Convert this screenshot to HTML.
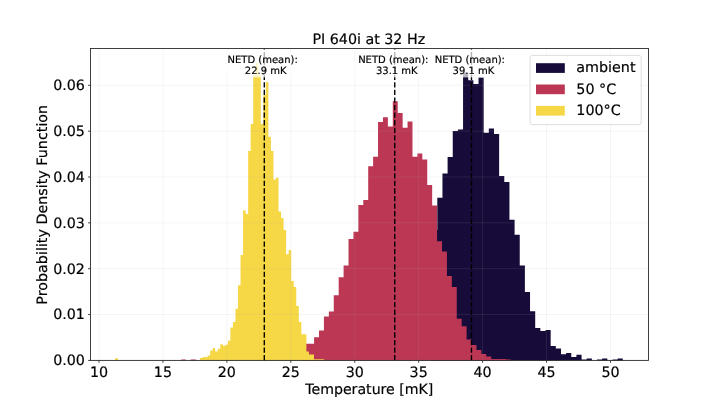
<!DOCTYPE html>
<html lang="en"><head><meta charset="utf-8"><title>PI 640i at 32 Hz</title>
<style>html,body{margin:0;padding:0;background:#fff;overflow:hidden}svg{display:block}text{font-family:"DejaVu Sans","Liberation Sans",sans-serif;fill:#000;stroke:#000;stroke-width:0.18px;text-rendering:geometricPrecision}</style></head><body>
<svg width="720" height="405" viewBox="0 0 720 405">
<rect width="720" height="405" fill="#fff"/>
<path d="M432.14 360.40 L432.14 230.00 L437.29 230.00 L437.29 197.80 L442.45 197.80 L442.45 173.50 L447.60 173.50 L447.60 157.00 L452.75 157.00 L452.75 131.00 L457.91 131.00 L457.91 129.40 L463.06 129.40 L463.06 72.40 L468.21 72.40 L468.21 80.20 L473.37 80.20 L473.37 84.10 L478.52 84.10 L478.52 77.40 L483.67 77.40 L483.67 132.70 L488.82 132.70 L488.82 128.50 L493.98 128.50 L493.98 134.10 L499.13 134.10 L499.13 176.00 L504.28 176.00 L504.28 181.90 L509.44 181.90 L509.44 219.70 L514.59 219.70 L514.59 234.80 L519.74 234.80 L519.74 265.50 L524.89 265.50 L524.89 291.90 L530.05 291.90 L530.05 311.20 L535.20 311.20 L535.20 328.00 L540.35 328.00 L540.35 331.10 L545.51 331.10 L545.51 330.10 L550.66 330.10 L550.66 346.10 L555.81 346.10 L555.81 348.50 L560.97 348.50 L560.97 354.20 L566.12 354.20 L566.12 353.00 L571.27 353.00 L571.27 357.00 L576.42 357.00 L576.42 354.70 L581.58 354.70 L581.58 359.60 L586.73 359.60 L586.73 358.60 L591.88 358.60 L591.88 360.40Z M597.04 360.40 L597.04 359.60 L602.19 359.60 L602.19 358.60 L607.34 358.60 L607.34 360.40Z M612.50 360.40 L612.50 359.60 L617.65 359.60 L617.65 358.60 L622.80 358.60 L622.80 360.40Z" fill="#160b39"/>
<path d="M181.30 360.40 L181.30 359.60 L185.80 359.60 L185.80 360.40Z M190.80 360.40 L190.80 359.60 L195.80 359.60 L195.80 360.40Z M304.24 360.40 L304.24 343.80 L309.16 343.80 L309.16 343.80 L314.08 343.80 L314.08 337.20 L319.00 337.20 L319.00 330.60 L323.92 330.60 L323.92 316.60 L328.84 316.60 L328.84 311.60 L333.76 311.60 L333.76 295.30 L338.68 295.30 L338.68 277.20 L343.60 277.20 L343.60 265.40 L348.52 265.40 L348.52 239.00 L353.44 239.00 L353.44 231.80 L358.36 231.80 L358.36 205.00 L363.28 205.00 L363.28 200.00 L368.20 200.00 L368.20 166.30 L373.12 166.30 L373.12 156.70 L378.04 156.70 L378.04 122.10 L382.96 122.10 L382.96 117.30 L387.88 117.30 L387.88 126.50 L392.80 126.50 L392.80 101.30 L397.72 101.30 L397.72 113.10 L402.64 113.10 L402.64 127.70 L407.56 127.70 L407.56 121.50 L412.48 121.50 L412.48 156.70 L417.40 156.70 L417.40 153.40 L422.32 153.40 L422.32 159.60 L427.24 159.60 L427.24 184.90 L432.16 184.90 L432.16 205.40 L437.08 205.40 L437.08 241.20 L442.00 241.20 L442.00 251.60 L446.92 251.60 L446.92 275.90 L451.84 275.90 L451.84 287.00 L456.76 287.00 L456.76 318.70 L461.68 318.70 L461.68 326.30 L466.60 326.30 L466.60 339.50 L471.52 339.50 L471.52 345.00 L476.44 345.00 L476.44 350.00 L481.36 350.00 L481.36 354.00 L486.28 354.00 L486.28 356.40 L491.20 356.40 L491.20 358.90 L496.12 358.90 L496.12 358.90 L501.04 358.90 L501.04 358.90 L505.96 358.90 L505.96 359.50 L510.88 359.50 L510.88 360.40Z" fill="#bc3754"/>
<path d="M115.10 360.40 L115.10 358.20 L117.90 358.20 L117.90 360.40Z M200.01 360.40 L200.01 358.00 L202.54 358.00 L202.54 357.00 L205.07 357.00 L205.07 357.00 L207.61 357.00 L207.61 355.40 L210.14 355.40 L210.14 350.40 L212.67 350.40 L212.67 348.10 L215.20 348.10 L215.20 351.40 L217.74 351.40 L217.74 348.80 L220.27 348.80 L220.27 344.30 L222.80 344.30 L222.80 345.80 L225.34 345.80 L225.34 344.80 L227.87 344.80 L227.87 340.70 L230.40 340.70 L230.40 327.60 L232.94 327.60 L232.94 322.00 L235.47 322.00 L235.47 308.80 L238.00 308.80 L238.00 285.20 L240.53 285.20 L240.53 255.00 L243.07 255.00 L243.07 210.50 L245.60 210.50 L245.60 213.90 L248.13 213.90 L248.13 151.00 L250.67 151.00 L250.67 124.00 L253.20 124.00 L253.20 75.00 L255.73 75.00 L255.73 63.00 L258.27 63.00 L258.27 75.00 L260.80 75.00 L260.80 124.00 L263.33 124.00 L263.33 95.00 L265.87 95.00 L265.87 82.00 L268.40 82.00 L268.40 136.70 L270.93 136.70 L270.93 151.00 L273.46 151.00 L273.46 179.50 L276.00 179.50 L276.00 177.80 L278.53 177.80 L278.53 211.40 L281.06 211.40 L281.06 218.00 L283.60 218.00 L283.60 229.90 L286.13 229.90 L286.13 254.20 L288.66 254.20 L288.66 250.00 L291.19 250.00 L291.19 281.00 L293.73 281.00 L293.73 287.00 L296.26 287.00 L296.26 306.00 L298.79 306.00 L298.79 322.00 L301.33 322.00 L301.33 334.20 L303.86 334.20 L303.86 334.20 L306.39 334.20 L306.39 351.40 L308.93 351.40 L308.93 354.40 L311.46 354.40 L311.46 354.40 L313.99 354.40 L313.99 359.30 L316.52 359.30 L316.52 359.30 L319.06 359.30 L319.06 359.30 L321.59 359.30 L321.59 359.30 L324.12 359.30 L324.12 360.40Z" fill="#f6d746"/>
<path d="M99.00 48.50 V360.40 M162.94 48.50 V360.40 M226.88 48.50 V360.40 M290.81 48.50 V360.40 M354.75 48.50 V360.40 M418.69 48.50 V360.40 M482.62 48.50 V360.40 M546.56 48.50 V360.40 M610.50 48.50 V360.40 M90.50 360.40 H648.45 M90.50 314.55 H648.45 M90.50 268.70 H648.45 M90.50 222.85 H648.45 M90.50 177.00 H648.45 M90.50 131.15 H648.45 M90.50 85.30 H648.45" stroke="#b0b0b0" stroke-opacity="0.22" stroke-width="0.6" fill="none"/>
<line x1="264.31" x2="264.31" y1="360.40" y2="48.50" stroke="#000" stroke-width="1.4" stroke-dasharray="5.3 2.28"/>
<line x1="394.74" x2="394.74" y1="360.40" y2="48.50" stroke="#000" stroke-width="1.4" stroke-dasharray="5.3 2.28"/>
<line x1="471.47" x2="471.47" y1="360.40" y2="48.50" stroke="#000" stroke-width="1.4" stroke-dasharray="5.3 2.28"/>
<rect x="224.7" y="51" width="76" height="26.4" fill="#fff" fill-opacity="0.7"/>
<text font-size="10.0" text-anchor="middle"><tspan x="262.70" y="63.1">NETD (mean):</tspan><tspan x="265.70" y="74.0">22.9 mK</tspan></text>
<rect x="355.3" y="51" width="76" height="26.4" fill="#fff" fill-opacity="0.7"/>
<text font-size="10.0" text-anchor="middle"><tspan x="393.30" y="63.1">NETD (mean):</tspan><tspan x="396.80" y="74.0">33.1 mK</tspan></text>
<rect x="431.9" y="51" width="76" height="26.4" fill="#fff" fill-opacity="0.7"/>
<text font-size="10.0" text-anchor="middle"><tspan x="469.85" y="63.1">NETD (mean):</tspan><tspan x="473.40" y="74.0">39.1 mK</tspan></text>
<rect x="90.50" y="48.50" width="557.95" height="311.90" fill="none" stroke="#2a2a2a" stroke-width="0.9"/>
<path d="M99.00 360.40 v2.4 M162.94 360.40 v2.4 M226.88 360.40 v2.4 M290.81 360.40 v2.4 M354.75 360.40 v2.4 M418.69 360.40 v2.4 M482.62 360.40 v2.4 M546.56 360.40 v2.4 M610.50 360.40 v2.4 M90.50 360.40 h-2.4 M90.50 314.55 h-2.4 M90.50 268.70 h-2.4 M90.50 222.85 h-2.4 M90.50 177.00 h-2.4 M90.50 131.15 h-2.4 M90.50 85.30 h-2.4" stroke="#2a2a2a" stroke-width="0.9" fill="none"/>
<g font-size="14.25" text-anchor="middle">
<text x="99.00" y="376.5">10</text>
<text x="162.94" y="376.5">15</text>
<text x="226.88" y="376.5">20</text>
<text x="290.81" y="376.5">25</text>
<text x="354.75" y="376.5">30</text>
<text x="418.69" y="376.5">35</text>
<text x="482.62" y="376.5">40</text>
<text x="546.56" y="376.5">45</text>
<text x="610.50" y="376.5">50</text>
</g>
<g font-size="14.25" text-anchor="end">
<text x="84.9" y="365.30">0.00</text>
<text x="84.9" y="319.45">0.01</text>
<text x="84.9" y="273.60">0.02</text>
<text x="84.9" y="227.75">0.03</text>
<text x="84.9" y="181.90">0.04</text>
<text x="84.9" y="136.05">0.05</text>
<text x="84.9" y="90.20">0.06</text>
</g>
<text font-size="14.25" text-anchor="middle" x="368.8" y="44.15">PI 640i at 32 Hz</text>
<text font-size="14.15" text-anchor="middle" x="369.3" y="394">Temperature [mK]</text>
<text font-size="14.3" text-anchor="middle" transform="translate(46.7 204.75) rotate(-90)">Probability Density Function</text>
<rect x="530.1" y="55.4" width="111.1" height="69.2" rx="2.2" fill="#fff" fill-opacity="0.8" stroke="#d0d0d0" stroke-width="0.7"/>
<rect x="536" y="63.2" width="28.8" height="9.7" fill="#160b39"/>
<text font-size="14.3" x="576.3" y="72.4">ambient</text>
<rect x="536" y="84.5" width="28.8" height="9.7" fill="#bc3754"/>
<text font-size="14.3" x="576.3" y="93.8">50 °C</text>
<rect x="536" y="105.9" width="28.8" height="9.7" fill="#f6d746"/>
<text font-size="14.3" x="576.3" y="115.3">100°C</text>
</svg></body></html>
